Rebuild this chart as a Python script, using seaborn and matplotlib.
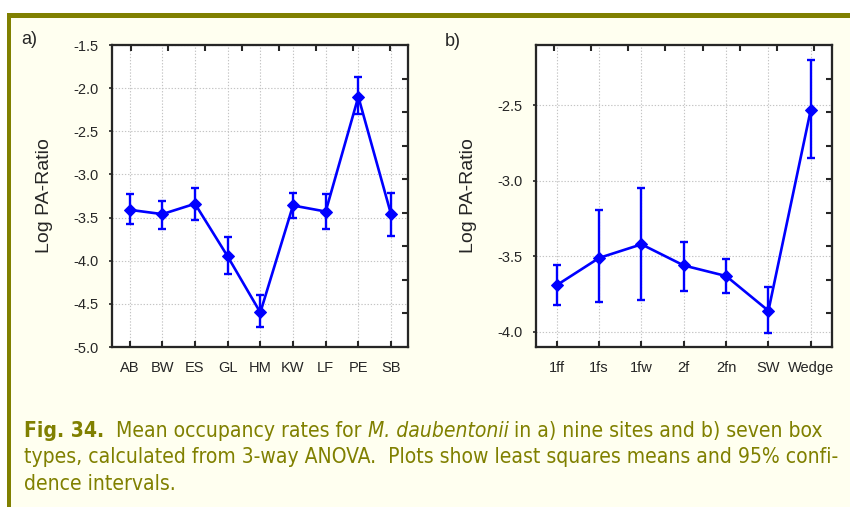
import os
import numpy as np
import pandas as pd
import matplotlib
matplotlib.use("Agg")
import matplotlib.pyplot as plt
import seaborn as sns
from matplotlib import font_manager as fm
from matplotlib.patches import Rectangle

# ---------------- data ----------------
sites = ["AB", "BW", "ES", "GL", "HM", "KW", "LF", "PE", "SB"]
site_mean = [-3.41, -3.46, -3.34, -3.95, -4.60, -3.36, -3.43, -2.10, -3.46]
site_lo = [-3.58, -3.63, -3.53, -4.15, -4.77, -3.51, -3.63, -2.30, -3.71]
site_hi = [-3.23, -3.31, -3.16, -3.73, -4.40, -3.21, -3.23, -1.87, -3.21]

box_types = ["1ff", "1fs", "1fw", "2f", "2fn", "SW", "Wedge"]
box_mean = [-3.69, -3.51, -3.42, -3.56, -3.63, -3.86, -2.53]
box_lo = [-3.82, -3.80, -3.79, -3.73, -3.745, -4.01, -2.85]
box_hi = [-3.56, -3.195, -3.05, -3.405, -3.52, -3.70, -2.20]

yticks_a = [-5.0, -4.5, -4.0, -3.5, -3.0, -2.5, -2.0, -1.5]
yticks_b = [-4.0, -3.5, -3.0, -2.5]
ylabel = "Log PA-Ratio"

# ---------------- style ----------------
sns.set_style("white")
plt.rcParams["font.family"] = ["Liberation Sans", "DejaVu Sans"]
BLUE = "#0000FF"
OLIVE = "#808000"
CREAM = "#FFFFF0"
W, H = 850, 507

fig = plt.figure(figsize=(W / 100, H / 100), dpi=100, facecolor="white")

# background frame
fig.add_artist(Rectangle((6.7 / W, 0), 1 - 6.7 / W, (H - 13.3) / H, transform=fig.transFigure,
                         facecolor=CREAM, edgecolor="none", zorder=-20))
fig.add_artist(Rectangle((6.7 / W, (H - 18.3) / H), 1 - 6.7 / W, 5 / H, transform=fig.transFigure,
                         facecolor=OLIVE, edgecolor="none", zorder=-19))
fig.add_artist(Rectangle((6.7 / W, 0), 4.3 / W, (H - 13.3) / H, transform=fig.transFigure,
                         facecolor=OLIVE, edgecolor="none", zorder=-19))


def panel(rect, cats, mean, lo, hi, ylim, yticks, xlim):
    ax = fig.add_axes(rect)
    ax.set_facecolor("white")
    mean = np.asarray(mean)
    lo = np.asarray(lo)
    hi = np.asarray(hi)
    df = pd.DataFrame({"pos": np.arange(len(cats)), "cat": cats, "val": mean})
    ax.errorbar(df["pos"], mean, yerr=[mean - lo, hi - mean], fmt="none", ecolor=BLUE,
                elinewidth=1.7, capsize=3, capthick=1.7, zorder=3)
    sns.lineplot(data=df, x="pos", y="val", ax=ax, color=BLUE, lw=1.9, marker="D",
                 markersize=6, markeredgecolor=BLUE, markerfacecolor=BLUE, zorder=4)
    ax.set_xlim(*xlim)
    ax.set_ylim(*ylim)
    ax.set_xticks(df["pos"])
    ax.set_xticklabels(cats)
    ax.set_yticks(yticks)
    ax.set_yticklabels([f"{v:.1f}" for v in yticks])
    ax.set_xlabel("")
    ax.set_ylabel(ylabel, fontsize=14)
    ax.yaxis.set_label_coords(-0.198, 0.5)
    ax.grid(True, color="#c4c4c4", linestyle=(0, (1.2, 1.6)), linewidth=0.8)
    ax.set_axisbelow(True)
    for s in ax.spines.values():
        s.set_visible(True)
        s.set_linewidth(1.5)
        s.set_color("black")
    ax.tick_params(axis="y", direction="out", length=2.5, width=1.2, pad=7,
                   labelsize=10.5, left=True, right=False)
    ax.tick_params(axis="x", direction="in", length=4, width=1.5, pad=10,
                   labelsize=10.5, bottom=True, top=False)
    # independent top / right inner ticks
    tx = ax.twiny()
    tx.set_xlim(0, 1)
    tx.set_xticks([(k + 0.5) / 8 for k in range(8)])
    tx.set_xticklabels([])
    tx.tick_params(axis="x", direction="in", length=4, width=1.5, top=True, bottom=False)
    ty = ax.twinx()
    ty.set_ylim(0, 1)
    ty.set_yticks([k / 9 for k in range(1, 9)])
    ty.set_yticklabels([])
    ty.tick_params(axis="y", direction="in", length=4, width=1.5, right=True, left=False)
    for t in (tx, ty):
        t.grid(False)
        for s in t.spines.values():
            s.set_linewidth(1.5)
    return ax


bottom = (H - 347) / H
height = (347 - 45) / H
panel([112 / W, bottom, (408 - 112) / W, height], sites, site_mean, site_lo, site_hi,
      (-5.0, -1.5), yticks_a, (-0.54, 8.52))
panel([535.7 / W, bottom, (832.3 - 535.7) / W, height], box_types, box_mean, box_lo, box_hi,
      (-4.1, -2.1), yticks_b, (-0.5, 6.51))

fig.text(21 / W, 1 - 39 / H, "a)", fontsize=13, ha="left", va="center")
fig.text(445 / W, 1 - 42 / H, "b)", fontsize=13, ha="left", va="center")

# ---------------- caption ----------------
def find_font(fname_part):
    for f in fm.fontManager.ttflist:
        if os.path.basename(f.fname) == fname_part:
            return f.fname
    return None

reg = find_font("DejaVuSansCondensed.ttf")
bold = find_font("DejaVuSansCondensed-Bold.ttf")
ital = find_font("DejaVuSansCondensed-Oblique.ttf")


def fprops(kind, size):
    path = {"r": reg, "b": bold, "i": ital}[kind]
    if path is not None:
        return fm.FontProperties(fname=path, size=size)
    return fm.FontProperties(family="DejaVu Sans", size=size,
                             weight="bold" if kind == "b" else "normal",
                             style="italic" if kind == "i" else "normal")


lines = [
    [("Fig. 34.", "b"), ("  Mean occupancy rates for ", "r"), ("M. daubentonii", "i"),
     (" in a) nine sites and b) seven box", "r")],
    [("types, calculated from 3-way ANOVA.  Plots show least squares means and 95% confi-", "r")],
    [("dence intervals.", "r")],
]
baselines = [70, 43.7, 17]
line_ends = [846.5, 839.0]
renderer = fig.canvas.get_renderer()


def text_w(s, fp):
    t = fig.text(0, 0, s, fontproperties=fp)
    w = t.get_window_extent(renderer).width
    t.remove()
    return w


def layout(line, base, size, draw=True):
    x = 24.0
    fp_r = fprops("r", size)
    sp = text_w("a a", fp_r) - text_w("aa", fp_r)
    for txt, kind in line:
        fp = fprops(kind, size)
        lead = len(txt) - len(txt.lstrip(" "))
        trail = len(txt) - len(txt.rstrip(" "))
        core = txt.strip(" ")
        x += lead * sp
        if draw:
            t = fig.text(x / W, base / H, core, fontproperties=fp, color=OLIVE,
                         ha="left", va="baseline")
            x = t.get_window_extent(renderer).x1
        else:
            x += text_w(core, fp)
        x += trail * sp
    return x


size0 = 12.0
sizes = []
for ln, end in zip(lines[:2], line_ends):
    e = layout(ln, 0, size0, draw=False)
    sizes.append(size0 * (end - 24) / (e - 24))
size = min(sizes)
for ln, b in zip(lines, baselines):
    layout(ln, b, size)

fig.savefig("out.png", dpi=100, facecolor=fig.get_facecolor())
